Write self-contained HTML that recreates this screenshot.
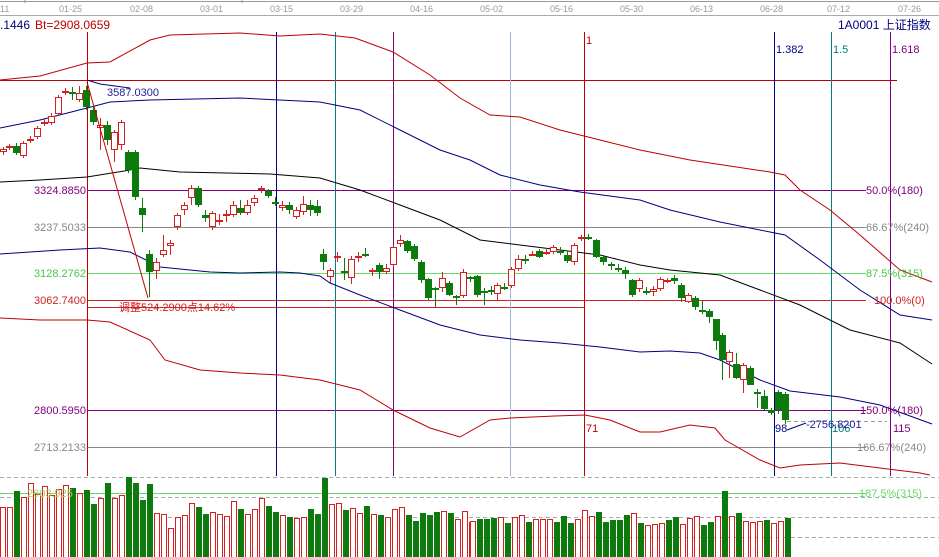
<!DOCTYPE html>
<html><head><meta charset="utf-8"><style>
body{margin:0;background:#fff;width:939px;height:557px;overflow:hidden}
svg{display:block;font-family:"Liberation Sans","Noto Sans CJK SC",sans-serif}
</style></head><body>
<svg id="s" width="939" height="557" xmlns="http://www.w3.org/2000/svg">
<line x1="0" y1="1.5" x2="939" y2="1.5" stroke="#999"/>
<line x1="25" y1="0" x2="25" y2="3" stroke="#999"/><line x1="242" y1="0" x2="242" y2="3" stroke="#999"/>
<line x1="0" y1="15.5" x2="939" y2="15.5" stroke="#aaa"/>
<g font-size="9" fill="#999">
<text x="0" y="12">11</text><text x="59" y="12">01-25</text><text x="130" y="12">02-08</text><text x="200" y="12">03-01</text><text x="270" y="12">03-15</text><text x="340" y="12">03-29</text><text x="410" y="12">04-16</text><text x="480" y="12">05-02</text><text x="550" y="12">05-16</text><text x="620" y="12">05-30</text><text x="690" y="12">06-13</text><text x="760" y="12">06-28</text><text x="827" y="12">07-12</text><text x="898" y="12">07-26</text>
</g>
<text x="0" y="29" font-size="12" fill="#000080">.1446</text>
<text x="35" y="29" font-size="12" fill="#c00000">Bt=2908.0659</text>
<text x="838" y="29" font-size="12" fill="#000080">1A0001 上证指数</text>
<g id="g"></g>
</svg>
<script>
var g=document.getElementById('g'),h='';
function L(x1,y1,x2,y2,c,extra){h+='<line x1="'+x1+'" y1="'+y1+'" x2="'+x2+'" y2="'+y2+'" stroke="'+c+'" '+(extra||'')+'/>';}
function P(pts,c){h+='<polyline fill="none" stroke="'+c+'" stroke-width="1" points="'+pts+'"/>';}
function T(x,y,s,c,a){h+='<text x="'+x+'" y="'+y+'" font-size="11" fill="'+c+'"'+(a?' text-anchor="end"':'')+'>'+s+'</text>';}
[477,497,517,537].forEach(function(y){L(0,y+.5,939,y+.5,'#aaa','stroke-dasharray="4,3"');});
L(0,80.5,897,80.5,'#c00000');
L(87,190.5,866,190.5,'#800080');L(87,227.5,866,227.5,'#888');L(87,273.5,866,273.5,'#66dd66');
L(87,300.5,866,300.5,'#d02020');L(87,307.5,585,307.5,'#d02020');
L(87,410.5,866,410.5,'#800080');L(87,447.5,866,447.5,'#888');L(0,493.5,866,493.5,'#66dd66');
[[87,'#c00000'],[276,'#000080'],[335,'#008080'],[393,'#800080'],[510,'#a0b8d0'],[584,'#c00000'],[774,'#000080'],[831,'#008080'],[890,'#800080']].forEach(function(v){L(v[0]+.5,32,v[0]+.5,476,v[1]);});
P('0,80 40,76 87,63 110,62 150,40 170,35 240,33 280,36 320,34 355,38 393,52 430,75 460,98 490,115 520,117 560,130 600,140 640,150 690,160 770,172 785,175 800,190 830,210 860,235 900,270 932,282','#c00000');
P('0,128 40,120 87,108 110,102 150,100 240,98 320,102 360,110 400,130 440,150 470,160 500,175 540,185 580,192 640,200 670,210 720,222 770,232 785,235 820,260 860,290 900,315 932,320','#000080');
P('0,182 40,180 87,177 130,170 140,168 180,172 270,174 320,178 360,190 400,205 440,220 480,240 520,245 560,250 600,255 640,265 670,270 720,275 760,290 800,305 850,330 900,343 932,364','#000');
P('0,254 60,250 100,248 130,252 150,262 160,267 210,272 240,273 280,272 300,273 320,276 330,283 360,295 400,310 440,325 480,335 520,340 560,343 600,347 640,352 670,351 700,353 720,360 760,380 790,391 840,397 880,405 932,424','#000080');
P('0,318 40,320 87,320 110,322 150,340 165,360 200,370 240,373 280,375 320,380 360,390 393,410 430,428 460,437 490,420 510,418 555,416 585,415 610,420 640,432 660,432 690,425 715,428 725,440 760,460 780,468 800,465 840,463 880,468 920,473 930,475','#c00000');
var C=[[3,152,149,147,155],[9,148,146,144,150],[16,146,153,143,155],[23,156,143,141,158],[30,141,139,136,143],[37,137,128,126,139],[44,124,122,119,126],[51,123,116,113,125],[58,114,97,95,116],[65,93,91,88,95],[72,92,94,87,100],[79,100,93,86,102],[86,90,107,86,110],[93,110,122,106,125],[100,128,125,118,150],[107,125,140,121,145],[114,150,132,130,162],[121,145,122,120,150],[128,152,170,150,173],[135,152,197,150,200],[142,208,215,198,232],[149,254,272,250,297],[156,271,262,258,279],[163,255,250,235,257],[170,246,243,240,255],[177,227,215,213,230],[184,210,205,202,215],[191,198,188,185,205],[198,188,205,186,207],[205,215,218,210,222],[212,227,213,211,230],[219,221,220,214,225],[226,216,214,210,222],[233,215,205,201,217],[240,208,213,200,215],[247,213,205,200,215],[254,203,198,195,206],[261,190,188,186,193],[268,191,196,189,198],[275,202,203,197,206],[282,208,205,201,211],[289,205,210,202,214],[296,217,210,207,219],[303,212,204,196,215],[310,205,210,200,216],[317,206,213,200,216],[323,254,262,249,270],[330,277,270,268,283],[337,257,256,252,262],[344,271,273,258,280],[351,278,259,256,284],[358,258,256,252,262],[365,254,256,248,257],[372,271,270,268,276],[379,265,272,263,279],[386,272,268,264,274],[393,265,247,245,267],[400,244,240,235,247],[407,241,251,240,253],[414,246,259,244,261],[421,262,280,260,283],[428,279,298,278,300],[435,288,289,287,307],[442,288,278,272,292],[449,283,295,281,296],[456,296,298,295,305],[463,296,272,269,298],[470,277,279,276,282],[477,276,295,275,297],[484,291,292,288,305],[491,290,291,286,295],[497,294,285,283,301],[504,287,288,283,290],[511,286,269,267,288],[518,269,259,255,271],[525,259,260,255,264],[532,255,254,251,256],[539,251,257,249,258],[546,254,252,248,255],[553,252,247,245,254],[560,251,253,247,255],[567,255,261,251,263],[574,262,245,243,265],[581,239,237,235,241],[588,237,238,234,240],[596,240,257,239,258],[603,257,262,255,265],[611,264,265,262,270],[618,268,269,264,272],[625,270,274,267,279],[632,280,295,279,297],[639,289,280,278,292],[646,291,292,287,295],[653,292,289,286,296],[660,289,279,277,291],[667,281,280,278,283],[674,278,281,275,284],[681,285,298,283,302],[688,302,295,293,303],[695,298,307,296,310],[702,310,312,301,314],[709,311,317,309,323],[716,319,341,319,350],[722,335,360,333,380],[729,362,352,350,378],[736,364,378,353,379],[743,380,365,363,393],[750,368,385,366,385],[757,392,394,389,408],[764,396,409,390,410],[771,410,413,408,415],[778,392,410,390,414],[785,394,420,392,424]];
C.forEach(function(c){var up=c[2]<c[1],col=up?'#d42020':'#0c7a0c',t=Math.min(c[1],c[2]),b=Math.max(c[1],c[2]);if(b-t<2){b=t+2;}
L(c[0]+.5,c[3],c[0]+.5,c[4],col);
if(up)h+='<rect x="'+(c[0]-2.5)+'" y="'+(t+.5)+'" width="6" height="'+(b-t-1)+'" fill="#fff" stroke="'+col+'"/>';
else h+='<rect x="'+(c[0]-3)+'" y="'+t+'" width="7" height="'+(b-t)+'" fill="'+col+'"/>';});
var V=[[507,0],[507,0],[491,1],[497,0],[483,0],[494,0],[486,0],[495,0],[489,0],[485,0],[488,1],[493,0],[490,1],[504,1],[498,0],[483,1],[498,0],[495,0],[477,1],[483,1],[500,1],[484,1],[513,0],[514,0],[528,0],[517,0],[515,0],[503,0],[507,1],[514,1],[512,0],[514,0],[516,0],[501,0],[509,1],[514,0],[509,0],[498,0],[506,1],[512,1],[515,0],[517,1],[518,0],[517,0],[509,1],[514,1],[478,1],[504,0],[503,0],[510,1],[508,0],[513,0],[506,1],[514,0],[515,1],[517,0],[509,0],[507,0],[515,1],[521,1],[513,1],[515,1],[512,1],[511,0],[513,1],[519,0],[511,0],[522,0],
[521,0],[519,1],[519,1],[518,1],[517,0],[523,1],[517,0],[515,0],[522,1],[519,0],[519,0],[519,0],[522,1],[516,1],[523,1],[519,0],[510,0],[516,0],[512,1],[522,1],[520,1],[520,1],[515,1],[513,0],[523,1],[525,0],[524,0],[523,0],[520,1],[517,1],[524,0],[518,0],[516,0],[525,1],[522,1],[516,0],[491,1],[516,0],[513,1],[521,0],[522,0],[521,0],[520,1],[523,0],[521,0],[518,1]];
var N=V.length,st=315/(N-69);
V.forEach(function(v,i){var x=i<68?i*7:470+(i-68)*st;x=Math.round(x);if(v[1])h+='<rect x="'+(x)+'" y="'+v[0]+'" width="6" height="'+(557-v[0])+'" fill="#0c7a0c"/>';else h+='<rect x="'+(x+.5)+'" y="'+(v[0]+.5)+'" width="5" height="'+(557-v[0])+'" fill="#fff" stroke="#d42020"/>';});
L(87,82,148,298,'#c00000');
P('87,80 100,84 130,88','#000080');
T(107,96,'3587.0300','#2020a0');
T(119,311,'调整524.2900点14.62%','#d02020');
T(86,194,'3324.8850','#800080',1);T(86,231,'3237.5033','#888',1);T(86,277,'3128.2762','#44cc44',1);T(86,304,'3062.7400','#d02020',1);T(86,414,'2800.5950','#800080',1);T(86,451,'2713.2133','#888',1);
T(866,194,'50.0%(180)','#800080');T(866,231,'66.67%(240)','#888');T(866,277,'87.5%(315)','#44cc44');T(874,304,'100.0%(0)','#d02020');T(860,414,'150.0%(180)','#800080');T(857,451,'166.67%(240)','#888');T(859,497,'187.5%(315)','#66dd66');
T(27,497,'2603.925','#aad060');
T(586,44,'1','#c00000');T(776,53,'1.382','#000080');T(833,53,'1.5','#008080');T(892,53,'1.618','#800080');
T(586,432,'71','#c00000');T(775,432,'98','#000080');T(832,432,'106','#008080');T(893,432,'115','#800080');
L(787,421.5,887,421.5,'#999','stroke-dasharray="4,3"');
P('787,430 806,423','#000080');T(806,428,'-2756.8201','#2020a0');
g.innerHTML=h;
</script>
</body></html>
